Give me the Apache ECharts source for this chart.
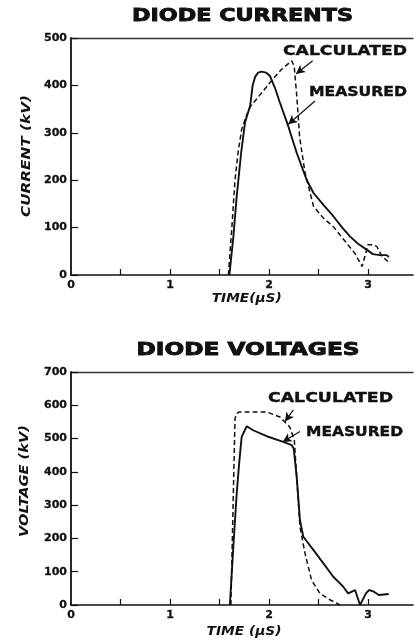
<!DOCTYPE html>
<html><head><meta charset="utf-8">
<script src="https://cdn.jsdelivr.net/npm/echarts/dist/echarts.min.js"></script>
<style>html,body{margin:0;padding:0;background:#fff}#c{width:416px;height:641px}</style>
</head><body><div id="c"></div>
<script>
// ---- DATA ----
const currentMeasuredT = [1.60, 1.64, 1.674, 1.72, 1.758, 1.81, 1.835, 1.86, 1.89, 1.926, 1.97, 2.01, 2.06, 2.11, 2.195, 2.28, 2.38, 2.45, 2.55, 2.65, 2.74, 2.82, 2.90, 2.99, 3.05, 3.12, 3.19, 3.21];
const currentMeasuredY = [0, 80, 166, 260, 322, 357, 400, 418, 427, 429, 427, 420, 395, 364, 314, 258, 201, 173, 148, 124, 100, 81, 66, 53, 44, 42, 42, 38];
const currentCalcT = [1.59, 1.625, 1.657, 1.69, 1.724, 1.77, 1.81, 1.91, 2.01, 2.128, 2.23, 2.255, 2.28, 2.31, 2.364, 2.45, 2.55, 2.65, 2.785, 2.87, 2.94, 2.97, 3.0, 3.05, 3.09, 3.14, 3.22];
const currentCalcY = [0, 100, 201, 262, 307, 335, 355, 380, 406, 434, 452, 440, 380, 290, 216, 145, 120, 102, 67, 45, 18, 40, 64, 64, 60, 40, 25];

const voltageMeasuredT = [1.605, 1.64, 1.674, 1.70, 1.724, 1.775, 1.84, 1.977, 2.145, 2.23, 2.25, 2.28, 2.313, 2.347, 2.45, 2.55, 2.65, 2.75, 2.80, 2.87, 2.92, 2.98, 3.01, 3.06, 3.11, 3.21];
const voltageMeasuredY = [0, 175, 335, 430, 505, 537, 525, 507, 490, 480, 470, 385, 255, 205, 165, 125, 85, 55, 35, 45, 0, 35, 45, 40, 30, 33];
const voltageCalcT = [1.615, 1.64, 1.657, 1.675, 1.70, 1.81, 1.977, 2.11, 2.21, 2.256, 2.28, 2.313, 2.364, 2.43, 2.515, 2.62, 2.72];
const voltageCalcY = [0, 335, 560, 575, 580, 580, 580, 565, 535, 495, 385, 235, 155, 75, 35, 15, 0];

const xTickValues = [0.5, 1, 1.5, 2, 2.5, 3];
const xLabelValues = [0, 1, 2, 3];
const timeMax = 3.455;
const currentMax = 500, currentStep = 100;
const voltageMax = 700, voltageStep = 100;

// annotation arrows [tail, tip] in data units
const currentCalcArrow = [[2.441, 452], [2.273, 424]];
const currentMeasArrow = [[2.465, 367], [2.195, 318]];
const voltageCalcArrow = [[2.246, 586], [2.162, 551]];
const voltageMeasArrow = [[2.313, 521], [2.138, 490]];

const titleTop = 'DIODE CURRENTS';
const titleBottom = 'DIODE VOLTAGES';
const yNameTop = 'CURRENT (kV)';
const yNameBottom = 'VOLTAGE (kV)';
const xNameTop = 'TIME(\u03bcS)';
const xNameBottom = 'TIME (\u03bcS)';
const labelCalc = 'CALCULATED';
const labelMeas = 'MEASURED';

// ---- CHART ----
const zip = (a, b) => a.map((v, i) => [v, b[i]]);
const ink = '#111';
const tickFont = {fontFamily: 'DejaVu Sans', fontWeight: 'bold', fontSize: 11, color: ink, textBorderColor: ink, textBorderWidth: 0.3};

function bottomX(gi) {
  return {
    type: 'value', gridIndex: gi, min: 0, max: timeMax, position: 'bottom',
    axisLine: {show: true, lineStyle: {color: ink, width: 1.6}},
    axisTick: {show: true, inside: true, length: 6, customValues: xTickValues, lineStyle: {color: ink, width: 1.2}},
    axisLabel: Object.assign({customValues: xLabelValues, margin: 5}, tickFont),
    splitLine: {show: false}
  };
}
function topX(gi) {
  return {
    type: 'value', gridIndex: gi, min: 0, max: timeMax, position: 'top',
    axisLine: {show: true, lineStyle: {color: '#333', width: 1.3}},
    axisTick: {show: false}, axisLabel: {show: false}, splitLine: {show: false}
  };
}
function yAx(gi, max, step) {
  return {
    type: 'value', gridIndex: gi, min: 0, max: max, interval: step,
    axisLine: {show: true, lineStyle: {color: ink, width: 1.8}},
    axisTick: {show: true, inside: true, length: 7, lineStyle: {color: ink, width: 1.2}},
    axisLabel: Object.assign({margin: 4}, tickFont),
    splitLine: {show: false}
  };
}
function arrowLine(arr) {
  return [{coord: arr[0]}, {coord: arr[1]}];
}
function lineSeries(xi, yi, data, dashed, arrows) {
  const s = {
    type: 'line', xAxisIndex: xi, yAxisIndex: yi, data: data,
    showSymbol: false, symbol: 'none', animation: false,
    lineStyle: {color: ink, width: dashed ? 1.5 : 1.9, type: dashed ? [5, 3] : 'solid'}
  };
  if (arrows) {
    s.markLine = {
      silent: true, animation: false, symbol: ['none', 'arrow'], symbolSize: [7, 9],
      lineStyle: {color: ink, width: 1.2, type: 'solid'}, label: {show: false},
      data: arrows.map(arrowLine)
    };
  }
  return s;
}

const ctx = document.createElement('canvas').getContext('2d');
function fitText(text, font, targetW, x, y, align, rot, strokeW) {
  ctx.font = font;
  const w = ctx.measureText(text).width;
  const st = {text: text, font: font, fill: ink, textAlign: align, textVerticalAlign: 'middle'};
  if (strokeW) { st.stroke = ink; st.lineWidth = strokeW; }
  return {
    type: 'text', x: x, y: y, rotation: rot || 0, scaleX: targetW / w,
    silent: true, z: 100, style: st
  };
}
const titleFont = 'bold 18px "DejaVu Sans"';
const annFont = 'bold 14px "DejaVu Sans"';
const nameFont = 'italic bold 12px "DejaVu Sans"';

const chart = echarts.init(document.getElementById('c'), null, {renderer: 'canvas'});
chart.setOption({
  backgroundColor: '#fff',
  animation: false,
  grid: [
    {left: 71, top: 38, width: 342, height: 237},
    {left: 71, top: 372, width: 342, height: 233}
  ],
  xAxis: [bottomX(0), topX(0), bottomX(1), topX(1)],
  yAxis: [yAx(0, currentMax, currentStep), yAx(1, voltageMax, voltageStep)],
  series: [
    lineSeries(0, 0, zip(currentMeasuredT, currentMeasuredY), false, [currentCalcArrow, currentMeasArrow]),
    lineSeries(0, 0, zip(currentCalcT, currentCalcY), true),
    lineSeries(2, 1, zip(voltageMeasuredT, voltageMeasuredY), false, [voltageCalcArrow, voltageMeasArrow]),
    lineSeries(2, 1, zip(voltageCalcT, voltageCalcY), true)
  ],
  graphic: [
    fitText(titleTop, titleFont, 221, 242.5, 16, 'center', 0, 0.9),
    fitText(titleBottom, titleFont, 223, 248, 350, 'center', 0, 0.9),
    fitText(yNameTop, nameFont, 122, 26.5, 156, 'center', Math.PI / 2),
    fitText(yNameBottom, nameFont, 112, 25, 481, 'center', Math.PI / 2),
    fitText(xNameTop, nameFont, 70, 246.7, 299, 'center'),
    fitText(xNameBottom, nameFont, 75, 244, 632, 'center'),
    fitText(labelCalc, annFont, 124, 283, 51, 'left', 0, 0.4),
    fitText(labelMeas, annFont, 98, 309, 92.5, 'left', 0, 0.4),
    fitText(labelCalc, annFont, 125, 268, 398, 'left', 0, 0.4),
    fitText(labelMeas, annFont, 97, 306, 432, 'left', 0, 0.4)
  ]
});
</script>
</body></html>
